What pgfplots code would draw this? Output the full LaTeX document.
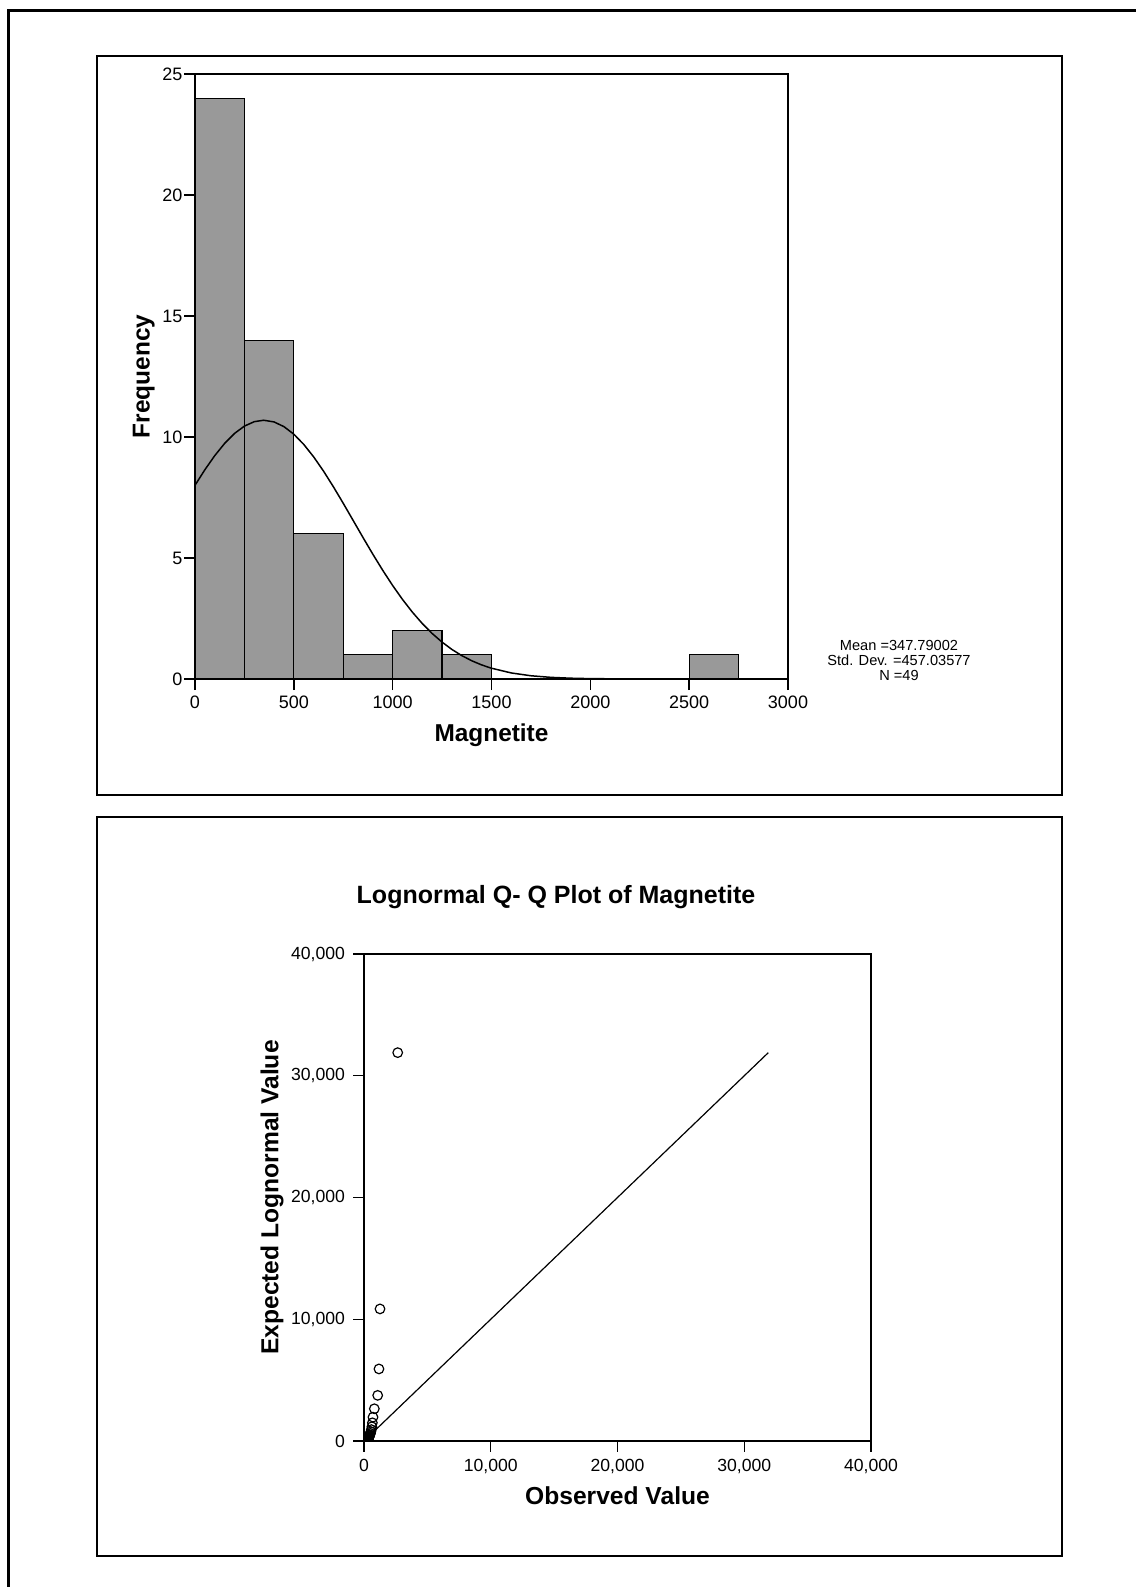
\documentclass[border=0pt]{standalone}
\usepackage{fontspec}
\setmainfont{Liberation Sans}
\usepackage{pgfplots}
\pgfplotsset{compat=1.18}
\definecolor{bargray}{RGB}{153,153,153}
\begin{document}
\begin{tikzpicture}
\useasboundingbox (0,0) rectangle (568pt,-793.5pt);
% outer border (only left and top visible)
\draw[line width=1.65pt] (4.2pt,-793.5pt) -- (4.2pt,-5.3pt) -- (568pt,-5.3pt);
% panels
\draw[line width=1pt] (48.65pt,-27.85pt) rectangle (530.85pt,-397.5pt);
\draw[line width=1pt] (48.65pt,-408.35pt) rectangle (530.85pt,-777.85pt);

% ---------------- Histogram ----------------
\begin{axis}[
  at={(97.5pt,-339.5pt)}, anchor=south west,
  width=296.5pt, height=302.5pt, scale only axis,
  xmin=0, xmax=3000, ymin=0, ymax=25,
  xtick={0,500,1000,1500,2000,2500,3000},
  ytick={0,5,10,15,20,25},
  tick pos=left, tick align=outside, major tick length=5.5pt,
  axis line style={line width=0.7pt},
  every tick/.style={black, line width=0.7pt},
  ticklabel style={font=\fontsize{9}{10}\selectfont},
  yticklabel style={inner sep=0.6pt},
  xticklabel style={inner sep=3pt},
  /pgf/number format/assume math mode=true,
  /pgf/number format/1000 sep={},
  scaled ticks=false,
  xlabel={Magnetite}, ylabel={Frequency},
  label style={font=\fontsize{12.2}{14}\selectfont\bfseries},
  xlabel style={at={(axis description cs:0.5,-0.1041)}, anchor=base},
  ylabel style={at={(axis description cs:-0.0767,0.5)}, anchor=base},
]
\addplot[ybar interval, fill=bargray, draw=black, line width=0.6pt]
  coordinates {(0,24) (250,14) (500,6) (750,1) (1000,2) (1250,1) (1500,0) (2500,1) (2750,1)};
\addplot[black, line width=0.75pt] coordinates {
 (0,8.005) (50,8.648) (100,9.231) (150,9.737) (200,10.148) (250,10.451)
 (300,10.635) (347.79,10.693) (400,10.623) (450,10.429) (500,10.116)
 (550,9.696) (600,9.183) (650,8.593) (700,7.946) (750,7.260) (800,6.554)
 (850,5.846) (900,5.153) (950,4.489) (1000,3.863) (1050,3.285) (1100,2.760)
 (1150,2.291) (1200,1.880) (1250,1.524) (1300,1.220) (1350,0.966)
 (1400,0.755) (1450,0.583) (1500,0.446) (1600,0.251) (1700,0.134) (1800,0.0687)
 (1900,0.0335) (2000,0.0155) (2200,0.003) (2500,0.0003) (3000,0)
};
\end{axis}

\node[anchor=base, font=\fontsize{7.3}{7.7}\selectfont] at (449.5pt,-325pt) {Mean =347.79002};
\node[anchor=base, font=\fontsize{7.3}{7.7}\selectfont] at (449.5pt,-332.85pt) {Std. Dev. =457.03577};
\node[anchor=base, font=\fontsize{7.3}{7.7}\selectfont] at (449.5pt,-340.35pt) {N =49};

% ---------------- Q-Q plot ----------------
\node[anchor=base, font=\fontsize{12.5}{14}\selectfont\bfseries] at (278pt,-451.5pt) {Lognormal Q- Q Plot of Magnetite};

\begin{axis}[
  at={(182pt,-720.5pt)}, anchor=south west,
  width=253.5pt, height=243.5pt, scale only axis,
  xmin=0, xmax=40000, ymin=0, ymax=40000,
  xtick={0,10000,20000,30000,40000},
  ytick={0,10000,20000,30000,40000},
  tick pos=left, tick align=outside, major tick length=5.3pt,
  axis line style={line width=0.7pt},
  every tick/.style={black, line width=0.7pt},
  ticklabel style={font=\fontsize{8.8}{10}\selectfont},
  yticklabel style={inner sep=4pt},
  xticklabel style={inner sep=3.5pt},
  /pgf/number format/assume math mode=true,
  /pgf/number format/1000 sep={,},
  scaled ticks=false,
  clip marker paths=true,
  xlabel={Observed Value}, ylabel={Expected Lognormal Value},
  label style={font=\fontsize{12.3}{14}\selectfont\bfseries},
  xlabel style={at={(axis description cs:0.5,-0.1294)}, anchor=base},
  ylabel style={at={(axis description cs:-0.169,0.5)}, anchor=base},
]
\addplot[black, line width=0.6pt] coordinates {(0,0) (31900,31900)};
\addplot[only marks, mark=o, mark size=2.4pt, mark options={line width=0.6pt, black}] coordinates {
 (2,0.17) (4,0.51) (6,0.94) (9,1.5) (12,2.1) (15,2.8) (18,3.7) (22,4.7)
 (26,5.9) (30,7.3) (35,8.9) (40,10.6) (46,12.6) (52,15.0) (60,17.6) (70,20.6)
 (80,24.0) (95,27.8) (110,32.2) (130,37.1) (150,42.8) (175,49.2) (200,56.8)
 (230,64.7) (255,74.6) (262,86) (270,98) (280,113) (292,130) (305,150)
 (320,173) (335,200) (350,232) (370,270) (390,317) (410,372) (435,440)
 (460,524) (510,628) (540,763) (580,938) (620,1172) (660,1496) (710,1958)
 (815,2650) (1080,3750) (1180,5920) (1263,10850) (2660,31900)
};
\end{axis}
\end{tikzpicture}
\end{document}
